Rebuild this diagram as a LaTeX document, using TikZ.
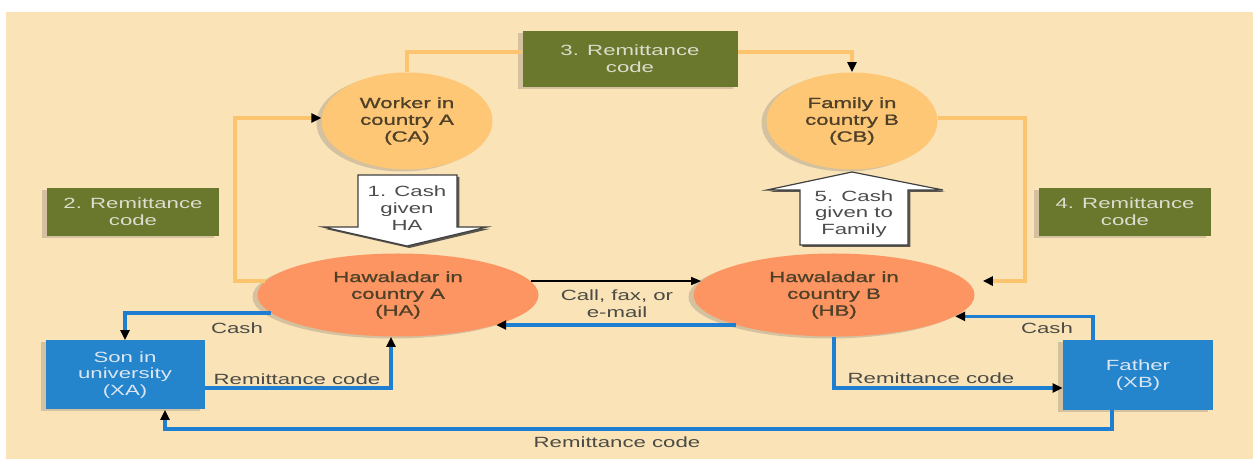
\documentclass[tikz,border=0pt]{standalone}
\usepackage{fontspec}
\setmainfont[FakeStretch=1.5]{Liberation Sans}
\newfontfamily\heavyfont[FakeStretch=1.5, FakeBold=1.2]{Liberation Sans}
\usetikzlibrary{arrows.meta,shapes.geometric,shadows}

\definecolor{cream}{HTML}{FAE3B7}
\definecolor{peach}{HTML}{FDC776}
\definecolor{coral}{HTML}{FC9562}
\definecolor{olive}{HTML}{6A782E}
\definecolor{codetext}{HTML}{DCDDCC}
\definecolor{boxblue}{HTML}{2484CC}
\definecolor{persontext}{HTML}{DCE6F2}
\definecolor{lineblue}{HTML}{1E7ED2}
\definecolor{lineorange}{HTML}{FDC46F}
\definecolor{darkbrown}{HTML}{4F4028}
\definecolor{labelgrey}{HTML}{4B4B45}

\tikzset{
    every node/.style={font=\fontsize{7.4}{8.4}\selectfont, align=center},
    soft shadow/.style={drop shadow={shadow xshift=-2.5pt, shadow yshift=-1pt, opacity=0.22, fill=black!70}},
    party/.style={ellipse, fill=peach, text=darkbrown, font=\fontsize{7.4}{8.4}\heavyfont, inner sep=0pt, minimum width=85.5pt, minimum height=48.5pt, soft shadow},
    hawala/.style={ellipse, fill=coral, text=darkbrown, font=\fontsize{7.4}{8.4}\heavyfont, inner sep=0pt, minimum width=140.5pt, minimum height=41.5pt, soft shadow},
    codebox/.style={rectangle, fill=olive, text=codetext, inner sep=0pt, minimum width=86pt, minimum height=24pt, soft shadow},
    person/.style={rectangle, fill=boxblue, text=persontext, inner sep=0pt, soft shadow},
    lbl/.style={text=labelgrey, inner sep=1pt},
    codeline/.style={lineorange, line width=2pt, -{Triangle[color=black, fill=black, length=5pt, width=4.5pt]}},
    cashline/.style={lineblue, line width=1.8pt, -{Triangle[color=black, fill=black, length=5pt, width=4.5pt]}},
    callline/.style={black, line width=0.7pt, -{Triangle[length=5pt, width=4pt]}},
    blockarrow/.style={fill=white, draw=black!75, line width=0.6pt, drop shadow={shadow xshift=1.2pt, shadow yshift=-1pt, opacity=0.8, fill=black!80}},
    blocktext/.style={text=black!70, inner sep=0pt}
}

\begin{document}
\begin{tikzpicture}[x=0.5pt, y=-0.5pt]
    \useasboundingbox (0,0) rectangle (1253,459);
    \fill[cream] (6,12) rectangle (1253,459);

    \coordinate (c2) at (235,200);
    \coordinate (c4) at (1025,200);
    \coordinate (cb) at (640,429);

    \draw[blockarrow] (358,175) -- (457,175) -- (457,227) -- (487,227) -- (407,246) -- (323,227) -- (358,227) -- cycle;
    \draw[blockarrow] (852,172) -- (943,190) -- (908,190) -- (908,245) -- (800,245) -- (800,190) -- (767,190) -- cycle;
    \node[blocktext] (cash1) at (407,208) {1. Cash\\given\\HA};
    \node[blocktext] (cash5) at (854,214) {5. Cash\\given to\\Family};

    \node[party] (CA) at (407,121) {Worker in\\country A\\(CA)};
    \node[party] (CB) at (852,121) {Family in\\country B\\(CB)};
    \node[hawala] (HA) at (398,295) {Hawaladar in\\country A\\(HA)};
    \node[hawala] (HB) at (834,295) {Hawaladar in\\country B\\(HB)};

    \node[codebox, minimum width=107.5pt, minimum height=28pt] (code3) at (630,59) {3. Remittance\\code};
    \node[codebox] (code2) at (133,212) {2. Remittance\\code};
    \node[codebox] (code4) at (1125,212) {4. Remittance\\code};

    \node[person, minimum width=79.5pt, minimum height=34.5pt] (XA) at (125,375) {Son in\\university\\(XA)};
    \node[person, minimum width=75pt, minimum height=35pt] (XB) at (1138,375) {Father\\(XB)};

    \draw[codeline] (HA.174) -| (c2) |- (CA.178);
    \draw[codeline, -] (CA.north) |- ([yshift=3.5pt]code3.west);
    \draw[codeline] ([yshift=3.5pt]code3.east) -| (CB.north);
    \draw[codeline, shorten >=8pt] (CB.2) -| (c4) |- (HB.6);

    \draw[callline] (HA.6) -- (HB.174);
    \node[lbl] (call) at (617,304) {Call, fax, or\\e-mail};

    \draw[cashline] (HB.197) -- (HA.343);
    \draw[cashline] (HA.188) -| (XA.north);
    \node[lbl] (cashA) at (237,328) {Cash};
    \draw[cashline] ([yshift=-6.5pt]XA.east) -| ([xshift=-3.5pt]HA.south);
    \node[lbl] (codeA) at (297,379) {Remittance code};
    \draw[cashline] (HB.south) |- ([yshift=-6.5pt]XB.west);
    \node[lbl] (codeB) at (931,378) {Remittance code};
    \draw[cashline] ([xshift=-22.5pt]XB.north) |- (HB.350);
    \node[lbl] (cashB) at (1047,328) {Cash};
    \draw[cashline] ([xshift=-13pt]XB.south) |- (cb) -| ([xshift=20pt]XA.south);
    \node[lbl] (codeC) at (617,442) {Remittance code};
\end{tikzpicture}
\end{document}
